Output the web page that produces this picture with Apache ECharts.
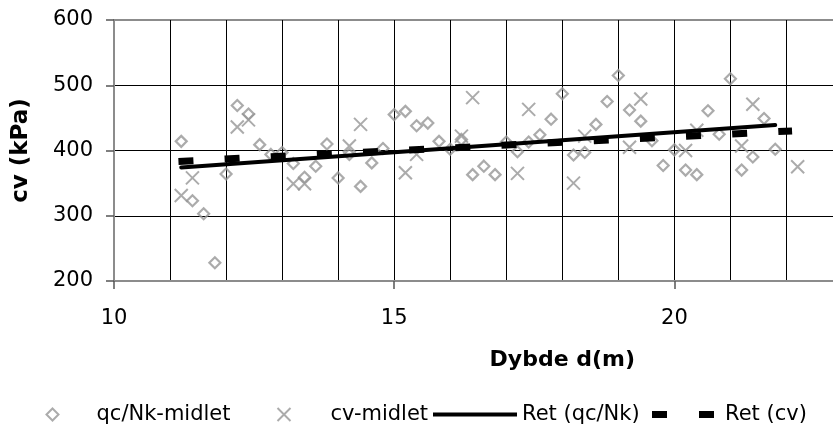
<!DOCTYPE html>
<html>
<head>
<meta charset="utf-8">
<script src="https://cdn.jsdelivr.net/npm/echarts@6/dist/echarts.min.js"></script>
<style>
  html, body { margin: 0; padding: 0; background: #fff; }
  #chart { width: 833px; height: 426px; }
</style>
</head>
<body>
<div id="chart"></div>
<script>
// ---- data ----
const qcX = [11.2, 11.4, 11.6, 11.8, 12.0, 12.2, 12.4, 12.6, 12.8, 13.0,
             13.2, 13.4, 13.6, 13.8, 14.0, 14.2, 14.4, 14.6, 14.8, 15.0,
             15.2, 15.4, 15.6, 15.8, 16.0, 16.2, 16.4, 16.6, 16.8, 17.0,
             17.2, 17.4, 17.6, 17.8, 18.0, 18.2, 18.4, 18.6, 18.8, 19.0,
             19.2, 19.4, 19.6, 19.8, 20.0, 20.2, 20.4, 20.6, 20.8, 21.0,
             21.2, 21.4, 21.6, 21.8];
const qcY = [414, 323, 303, 228, 364, 469, 456, 409, 394, 397,
             380, 359, 376, 410, 358, 394, 345, 381, 403, 455,
             460, 438, 442, 414, 402, 417, 363, 376, 363, 413,
             398, 413, 424, 448, 487, 393, 397, 440, 475, 515,
             462, 445, 415, 377, 401, 370, 363, 461, 425, 510,
             370, 390, 449, 402];
const cvX = [11.2, 11.4, 12.2, 12.4, 13.2, 13.4, 14.2, 14.4, 15.2, 15.4,
             16.2, 16.4, 17.2, 17.4, 18.2, 18.4, 19.2, 19.4, 20.2, 20.4,
             21.2, 21.4, 22.2];
const cvY = [331, 358, 436, 447, 349, 349, 407, 440, 366, 394,
             422, 481, 365, 463, 350, 422, 405, 479, 400, 431,
             407, 471, 375];
const retQcX = [11.2, 21.8];
const retQcY = [374, 439];
const retCvX = [11.15, 22.1];
const retCvY = [383.3, 430.0];
const xTickLabels = [10, 15, 20];
const yTickLabels = [200, 300, 400, 500, 600];
const seriesNames = ['qc/Nk-midlet', 'cv-midlet', 'Ret (qc/Nk)', 'Ret (cv)'];
const xTitle = 'Dybde d(m)';
const yTitle = 'cv (kPa)';

const zip = (xs, ys) => xs.map((x, i) => [x, ys[i]]);

const FONT = 'DejaVu Sans';
const GREY = '#969696';
const crossPath = 'path://M0,0L10,10M10,0L0,10';

function legendAt(left, name, icon, w, h, padLeft, itemStyle) {
  return {
    top: 404, left: left, padding: 0,
    itemWidth: w, itemHeight: h,
    selectedMode: false,
    data: [{ name: name, icon: icon, itemStyle: itemStyle }],
    textStyle: { fontFamily: FONT, fontSize: 21, color: '#000', padding: [0, 0, 0, padLeft] }
  };
}

const chart = echarts.init(document.getElementById('chart'), null, { renderer: 'canvas' });
chart.setOption({
  animation: false,
  backgroundColor: '#fff',
  grid: {
    left: 114, top: 20, width: 896.6, height: 261,
    outerBoundsMode: 'none', containLabel: false,
    show: true, borderColor: '#8c8c8c', borderWidth: 2, backgroundColor: 'transparent'
  },
  legend: [
    legendAt(45.5, seriesNames[0], 'diamond', 12, 12, 33,
      { color: 'rgba(0,0,0,0)', borderColor: GREY, borderWidth: 2 }),
    legendAt(276.5, seriesNames[1], crossPath, 13, 13, 35,
      { color: GREY, borderColor: GREY, borderWidth: 2 }),
    legendAt(433, seriesNames[2], 'rect', 84, 4, 0,
      { color: '#000', borderWidth: 0 }),
    legendAt(652, seriesNames[3], 'path://M0,0h15v7h-15z M47,0h15v7h-15z', 62, 7, 6,
      { color: '#000', borderWidth: 0 })
  ],
  xAxis: {
    type: 'value', min: 10, max: 26, interval: 5, z: 1,
    name: xTitle, nameLocation: 'middle', nameGap: 68,
    nameTextStyle: { fontFamily: FONT, fontSize: 22, fontWeight: 'bold', color: '#000' },
    axisLine: { show: true, onZero: false, lineStyle: { color: '#8c8c8c', width: 2 } },
    axisTick: { show: true, length: 8, lineStyle: { color: '#555', width: 1.5 } },
    axisLabel: {
      margin: 27, fontFamily: FONT, fontSize: 21, color: '#000',
      formatter: v => (xTickLabels.indexOf(v) >= 0 ? String(v) : '')
    },
    splitLine: { show: true, showMinLine: false, showMaxLine: false, lineStyle: { color: '#000', width: 1 } },
    minorTick: { show: false, splitNumber: 5 },
    minorSplitLine: { show: true, lineStyle: { color: '#000', width: 1 } }
  },
  yAxis: {
    type: 'value', min: 200, max: 600, interval: 100, z: 1,
    name: yTitle, nameLocation: 'middle', nameGap: 81, nameRotate: 90,
    nameTextStyle: { fontFamily: FONT, fontSize: 23, fontWeight: 'bold', color: '#000' },
    axisLine: { show: true, lineStyle: { color: '#8c8c8c', width: 2 } },
    axisTick: { show: true, length: 8, lineStyle: { color: '#555', width: 1.5 } },
    axisLabel: {
      margin: 21, fontFamily: FONT, fontSize: 21, color: '#000',
      formatter: v => (yTickLabels.indexOf(v) >= 0 ? String(v) : '')
    },
    splitLine: { show: true, showMinLine: false, showMaxLine: false, lineStyle: { color: '#000', width: 1 } }
  },
  series: [
    {
      name: seriesNames[0], type: 'scatter', data: zip(qcX, qcY),
      symbol: 'diamond', symbolSize: 11,
      itemStyle: { color: 'rgba(0,0,0,0)', borderColor: GREY, borderWidth: 2.2 },
      z: 2
    },
    {
      name: seriesNames[1], type: 'scatter', data: zip(cvX, cvY),
      symbol: crossPath, symbolSize: 13,
      itemStyle: { color: GREY, borderColor: GREY, borderWidth: 2 },
      z: 2
    },
    {
      name: seriesNames[2], type: 'line', data: zip(retQcX, retQcY),
      symbol: 'none', showSymbol: false, color: '#000',
      lineStyle: { color: '#000', width: 4, cap: 'round' },
      z: 4
    },
    {
      name: seriesNames[3], type: 'line', data: zip(retCvX, retCvY),
      symbol: 'none', showSymbol: false, color: '#000',
      lineStyle: { color: '#000', width: 7, type: [15, 31.2], cap: 'butt' },
      z: 3
    }
  ]
});
</script>
</body>
</html>
